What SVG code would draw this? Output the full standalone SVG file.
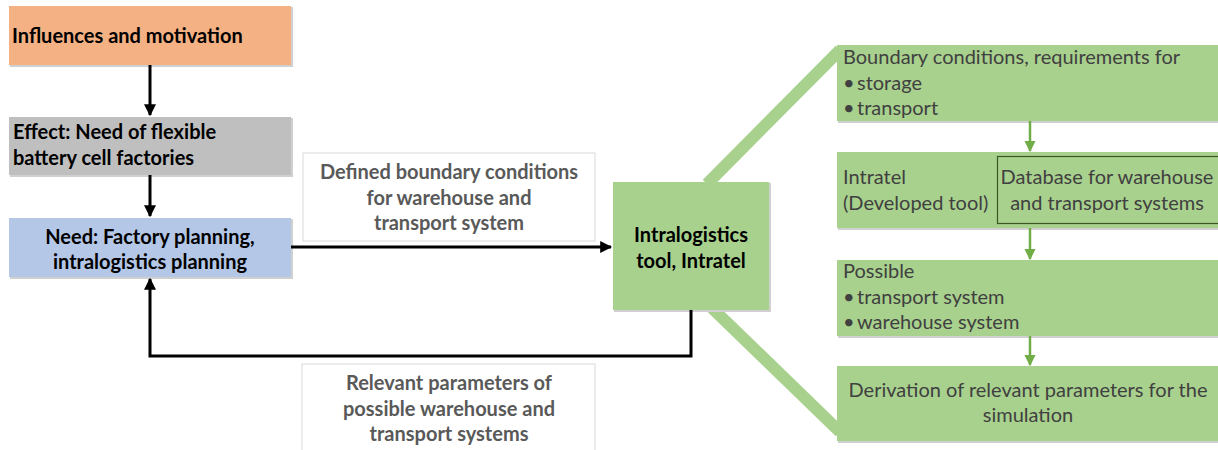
<svg xmlns="http://www.w3.org/2000/svg" width="1218" height="450" viewBox="0 0 1218 450">
<defs>
<style>
.t{font-family:Lato,"Liberation Sans",sans-serif;font-size:20px;fill:#404040}
.b{font-family:Lato,"Liberation Sans",sans-serif;font-size:20px;font-weight:bold;fill:#000}
.g{font-family:Lato,"Liberation Sans",sans-serif;font-size:20px;font-weight:bold;fill:#595959}
.c{text-anchor:middle}
.conn{fill:none;stroke:#000;stroke-width:3}
.garr{fill:none;stroke:#70ad47;stroke-width:2.5}
.band{stroke:#a9d18e;stroke-width:12;fill:none}
.gbox{fill:#a9d18e}
.sh{fill:#d0d0d0}
</style>
<marker id="ah" viewBox="0 0 10 10" refX="9" refY="5" markerWidth="4" markerHeight="4" orient="auto" markerUnits="strokeWidth"><path d="M0,0 L10,5 L0,10 z" fill="#000"/></marker>
<marker id="gh" viewBox="0 0 10 10" refX="9" refY="5" markerWidth="4.5" markerHeight="4.5" orient="auto" markerUnits="strokeWidth"><path d="M0,0 L10,5 L0,10 z" fill="#70ad47"/></marker>
</defs>
<rect width="1218" height="450" fill="#fff"/>

<g id="bands">
<line class="band" x1="707" y1="184" x2="840" y2="50"/>
<line class="band" x1="712" y1="308" x2="840" y2="432"/>
</g>

<g id="n-influences">
<rect class="sh" x="10" y="7" width="283" height="60"/>
<rect x="9" y="6" width="282" height="59" fill="#f4b183"/>
<text class="b" x="12" y="43">Influences and motivation</text>
</g>
<g id="n-effect">
<rect class="sh" x="10" y="118" width="283" height="59"/>
<rect x="9" y="117" width="282" height="58" fill="#bfbfbf"/>
<text class="b" x="13" y="139">Effect: Need of flexible</text>
<text class="b" x="13" y="165">battery cell factories</text>
</g>
<g id="n-need">
<rect class="sh" x="10" y="219" width="283" height="60"/>
<rect x="9" y="218" width="282" height="59" fill="#b4c7e7"/>
<text class="b c" x="150" y="244">Need: Factory planning,</text>
<text class="b c" x="150" y="269">intralogistics planning</text>
</g>
<g id="l-defined">
<rect x="303" y="153" width="292" height="88" fill="#fff" stroke="#d9d9d9"/>
<text class="g c" x="449" y="179">Defined boundary conditions</text>
<text class="g c" x="449" y="205">for warehouse and</text>
<text class="g c" x="449" y="230">transport system</text>
</g>
<g id="l-relevant">
<rect x="302" y="364" width="293" height="90" fill="#fff" stroke="#d9d9d9"/>
<text class="g c" x="449" y="390">Relevant parameters of</text>
<text class="g c" x="449" y="416">possible warehouse and</text>
<text class="g c" x="449" y="441">transport systems</text>
</g>
<g id="n-intratel">
<rect class="sh" x="614" y="183" width="157" height="129"/>
<rect class="gbox" x="613" y="182" width="156" height="128"/>
<text class="b c" x="691" y="242">Intralogistics</text>
<text class="b c" x="691" y="268">tool, Intratel</text>
</g>

<g id="n-boundary">
<rect class="sh" x="838" y="46" width="380" height="77"/>
<rect class="gbox" x="837" y="45" width="381" height="76"/>
<text class="t" x="843" y="64">Boundary conditions, requirements for</text>
<text class="t" x="843" y="90">•<tspan x="857">storage</tspan></text>
<text class="t" x="843" y="115">•<tspan x="857">transport</tspan></text>
</g>
<g id="n-intratel-dev">
<rect class="sh" x="838" y="153" width="380" height="77"/>
<rect class="gbox" x="837" y="152" width="381" height="76"/>
<text class="t" x="843" y="184">Intratel</text>
<text class="t" x="843" y="210">(Developed tool)</text>
<rect x="997.5" y="156.5" width="222" height="67" fill="none" stroke="#385723" stroke-width="1.2"/>
<text class="t c" x="1107" y="184">Database for warehouse</text>
<text class="t c" x="1107" y="210">and transport systems</text>
</g>
<g id="n-possible">
<rect class="sh" x="838" y="261" width="380" height="77"/>
<rect class="gbox" x="837" y="260" width="381" height="76"/>
<text class="t" x="843" y="278">Possible</text>
<text class="t" x="843" y="304">•<tspan x="857">transport system</tspan></text>
<text class="t" x="843" y="329">•<tspan x="857">warehouse system</tspan></text>
</g>
<g id="n-derivation">
<rect class="sh" x="838" y="367" width="380" height="76"/>
<rect class="gbox" x="837" y="366" width="381" height="75"/>
<text class="t c" x="1028" y="397">Derivation of relevant parameters for the</text>
<text class="t c" x="1028" y="422">simulation</text>
</g>

<g id="connectors">
<line class="conn" x1="150" y1="65" x2="150" y2="115" marker-end="url(#ah)"/>
<line class="conn" x1="150" y1="175" x2="150" y2="216" marker-end="url(#ah)"/>
<line class="conn" x1="291" y1="247" x2="611" y2="247" marker-end="url(#ah)"/>
<polyline class="conn" points="691,310 691,356 150,356 150,279" marker-end="url(#ah)"/>
<line class="garr" x1="1030" y1="121" x2="1030" y2="151" marker-end="url(#gh)"/>
<line class="garr" x1="1030" y1="228" x2="1030" y2="259" marker-end="url(#gh)"/>
<line class="garr" x1="1030" y1="336" x2="1030" y2="365" marker-end="url(#gh)"/>
</g>
</svg>
